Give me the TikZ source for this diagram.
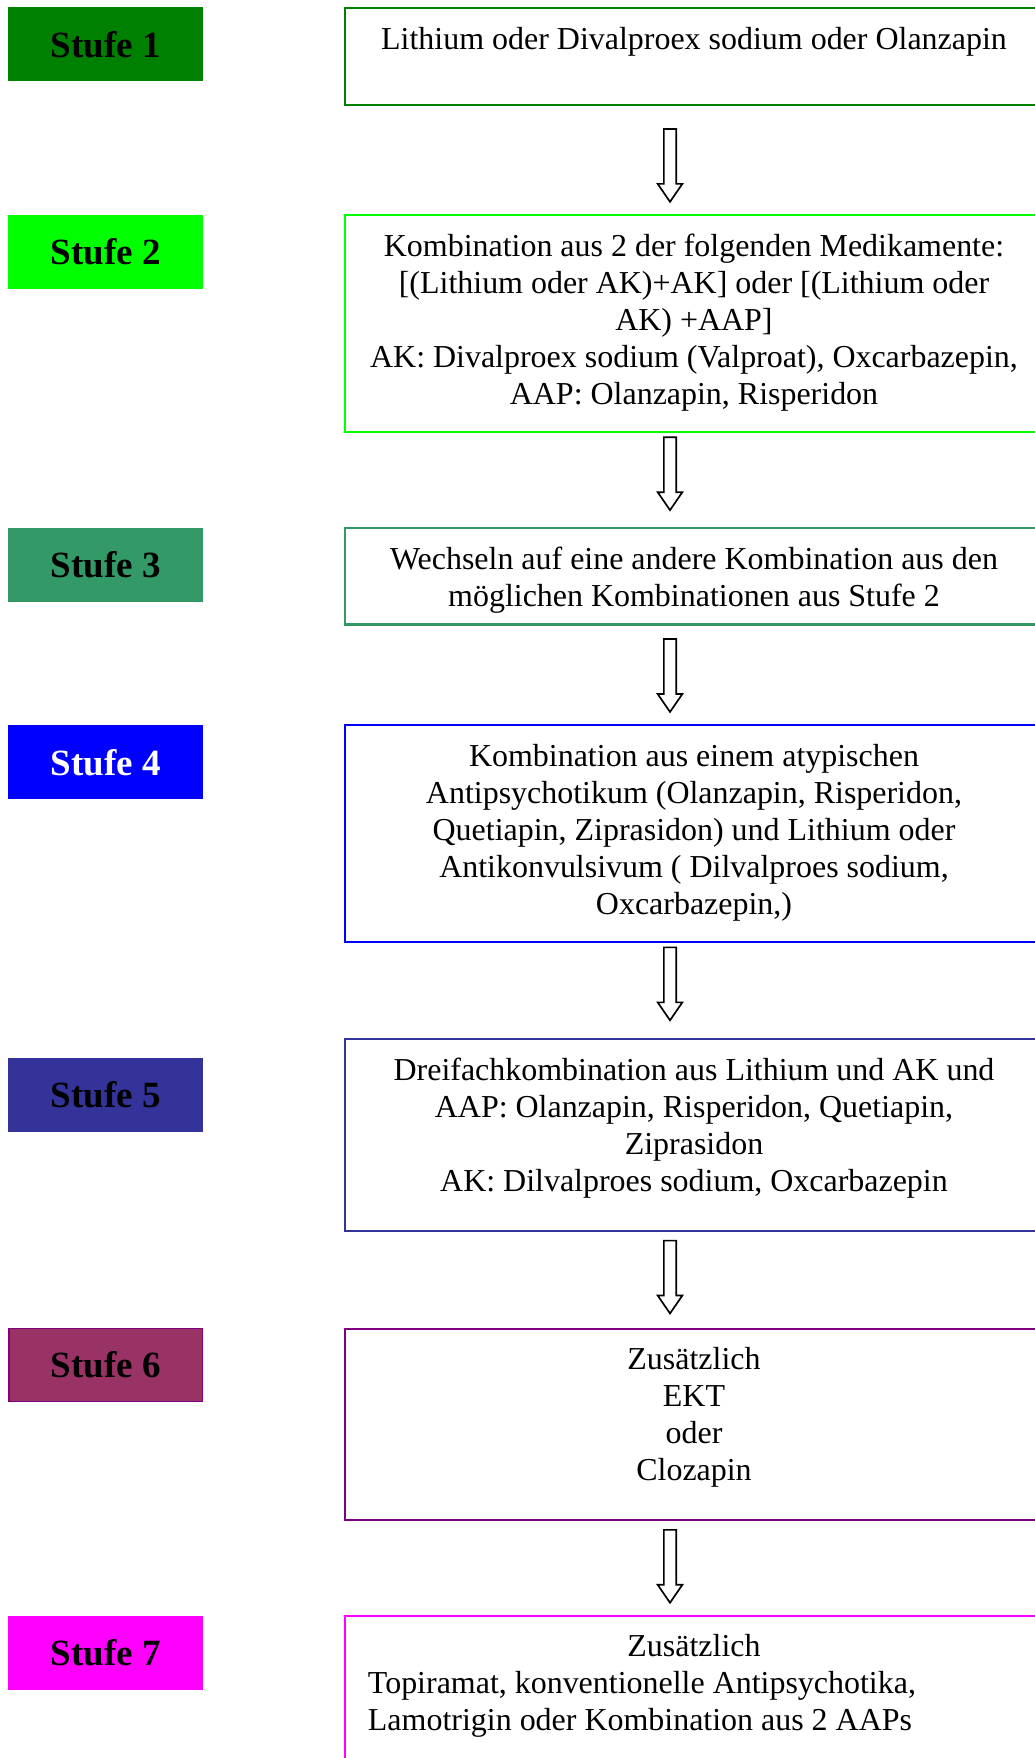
\documentclass[tikz,border=0pt]{standalone}
\usepackage{fontspec}
\setmainfont{Liberation Serif}
\definecolor{cA}{HTML}{008000}
\definecolor{cB}{HTML}{00FF00}
\definecolor{cC}{HTML}{339966}
\definecolor{cD}{HTML}{0000FF}
\definecolor{cE}{HTML}{333399}
\definecolor{cF}{HTML}{993366}
\definecolor{cFb}{HTML}{800080}
\definecolor{cG}{HTML}{FF00FF}
\tikzset{
  stagebox/.style={rectangle, minimum width=173pt, minimum height=65pt, line width=1pt,
    inner sep=0pt, font=\fontsize{33}{38}\selectfont\bfseries},
  rbox/.style={rectangle, minimum width=622pt, line width=1.8pt, inner sep=0pt},
  btext/.style={anchor=base, inner sep=0pt, text width=660pt, align=flush center,
    font=\fontsize{28.5}{33}\selectfont},
  ltext/.style={anchor=base west, inner sep=0pt, text width=600pt, align=flush left,
    font=\fontsize{28.5}{33}\selectfont},
  blockarr/.pic={\draw[black, line width=1.5pt, fill=white, line join=miter]
    (-5.5,-32.5) -- (5.5,-32.5) -- (5.5,16.5) -- (11,16.5) -- (0,32.5) -- (-11,16.5) -- (-5.5,16.5) -- cycle;}
}
\begin{document}
\begin{tikzpicture}[x=1pt, y=-1pt]
\useasboundingbox (0,0) rectangle (923,1568);
\clip (0,0) rectangle (923,1568);
% stage labels
\node[stagebox, fill=cA, draw=cA] (s1) at (94.5,39.5) {Stufe 1};
\node[stagebox, fill=cB, draw=cB] (s2) at (94.5,224.5) {Stufe 2};
\node[stagebox, fill=cC, draw=cC] (s3) at (94.5,503.5) {Stufe 3};
\node[stagebox, fill=cD, draw=cD, text=white] (s4) at (94.5,680) {Stufe 4};
\node[stagebox, fill=cE, draw=cE] (s5) at (94.5,976.5) {Stufe 5};
\node[stagebox, fill=cF, draw=cFb] (s6) at (94.5,1217.5) {Stufe 6};
\node[stagebox, fill=cG, draw=cG] (s7) at (94.5,1474) {Stufe 7};
% right boxes
\node[rbox, draw=cA, minimum height=87pt] (b1) at (619,50.5) {};
\node[rbox, draw=cB, minimum height=193pt] (b2) at (619,288.5) {};
\node[rbox, draw=cC, minimum height=86pt] (b3) at (619,514) {};
\node[rbox, draw=cD, minimum height=193pt] (b4) at (619,743.5) {};
\node[rbox, draw=cE, minimum height=171pt] (b5) at (619,1012.5) {};
\node[rbox, draw=cFb, minimum height=171pt] (b6) at (619,1270.5) {};
\node[rbox, draw=cG, minimum height=159pt] (b7) at (619,1520.5) {};
% texts
\node[btext] (t1) at (619,44) {Lithium oder Divalproex sodium oder Olanzapin};
\node[btext] (t2) at (619,228.5) {Kombination aus 2 der folgenden Medikamente:\\
{[}(Lithium oder AK)+AK] oder [(Lithium oder\\
AK) +AAP]\\
AK: Divalproex sodium (Valproat), Oxcarbazepin,\\
AAP: Olanzapin, Risperidon};
\node[btext] (t3) at (619,508) {Wechseln auf eine andere Kombination aus den\\
möglichen Kombinationen aus Stufe 2};
\node[btext] (t4) at (619,684) {Kombination aus einem atypischen\\
Antipsychotikum (Olanzapin, Risperidon,\\
Quetiapin, Ziprasidon) und Lithium oder\\
Antikonvulsivum ( Dilvalproes sodium,\\
Oxcarbazepin,)};
\node[btext] (t5) at (619,963.5) {Dreifachkombination aus Lithium und AK und\\
AAP: Olanzapin, Risperidon, Quetiapin,\\
Ziprasidon\\
AK: Dilvalproes sodium, Oxcarbazepin};
\node[btext] (t6) at (619,1221.5) {Zusätzlich\\
EKT\\
oder\\
Clozapin};
\node[btext] (t7a) at (619,1477.5) {Zusätzlich};
\node[ltext] (t7b) at (328,1510.5) {Topiramat, konventionelle Antipsychotika,\\
Lamotrigin oder Kombination aus 2 AAPs};
% block arrows
\pic at (597.6,147.5) {blockarr};
\pic at (597.6,422.5) {blockarr};
\pic at (597.6,602.5) {blockarr};
\pic at (597.6,877.5) {blockarr};
\pic at (597.6,1139) {blockarr};
\pic at (597.6,1397) {blockarr};
\end{tikzpicture}
\end{document}
